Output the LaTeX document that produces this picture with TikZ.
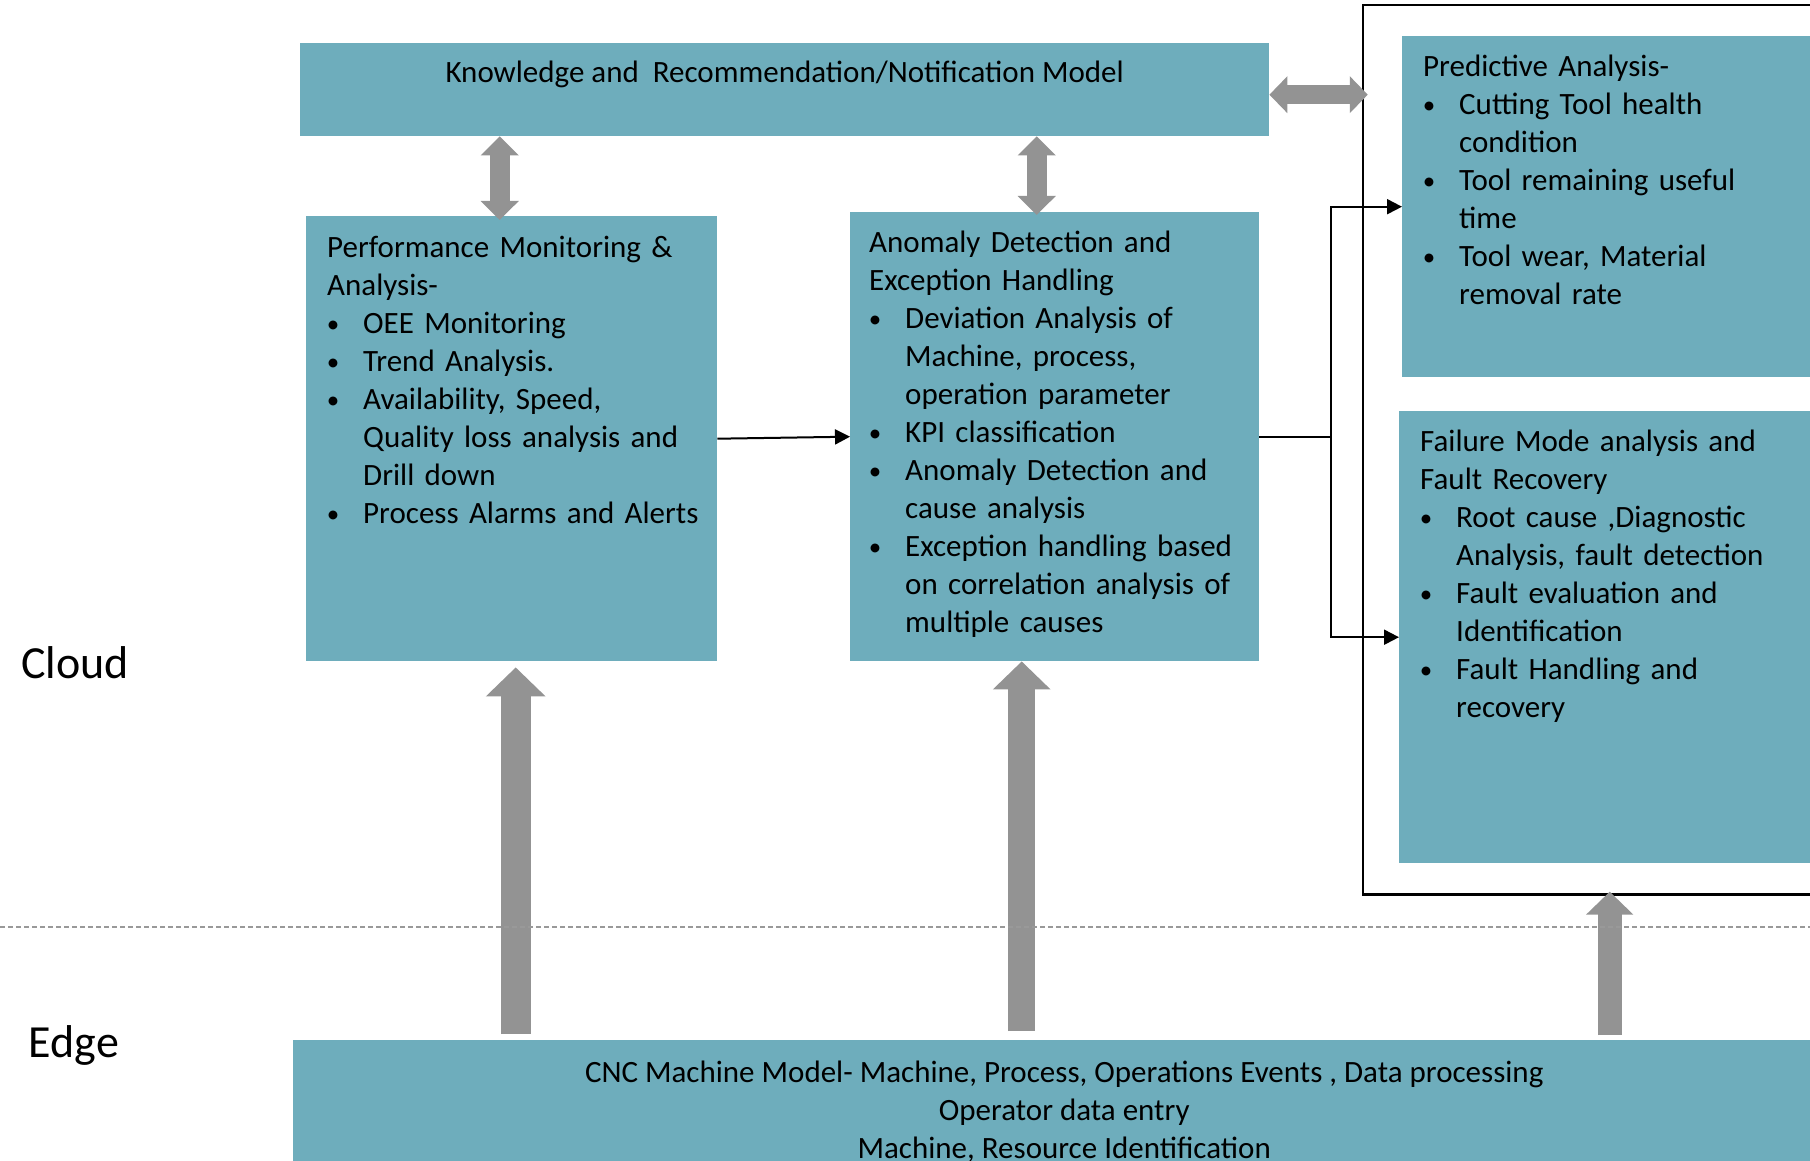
\documentclass[tikz,border=0pt]{standalone}
\usepackage{fontspec}
\setmainfont{Carlito}
\usepackage{tikz}
\usetikzlibrary{positioning,fit,calc,arrows.meta}
\usepackage{xcolor}
\definecolor{tealbg}{RGB}{110,173,188}
\definecolor{arrowgray}{RGB}{147,147,147}

% bullet line with hanging indent
\newcommand{\bitem}[1]{\par\hangindent=36pt\hangafter=1\noindent\makebox[36pt][l]{\makebox[12pt][c]{\raisebox{1.5pt}{\fontsize{25pt}{25pt}\selectfont\textbullet}}}#1\par}

\begin{document}
\begin{tikzpicture}[
    x=1pt, y=-1pt,
    tealbox/.style={fill=tealbg, inner sep=0pt, anchor=north west},
    boxtext/.style={inner sep=0pt, font=\fontsize{31pt}{38pt}\selectfont, align=left},
    bigtext/.style={inner sep=0pt, font=\fontsize{46pt}{55pt}\selectfont},
    conn/.style={line width=2pt, -{Triangle[length=15pt, width=15pt]}},
    bigup/.style n args={3}{draw=arrowgray, line width=#1, -{Triangle[width=#2, length=#3]}},
    dblarrow/.style n args={3}{draw=arrowgray, line width=#1, {Triangle[width=#2, length=#3]}-{Triangle[width=#2, length=#3]}},
    sepline/.style={draw=gray!80, line width=1.5pt, dash pattern=on 5pt off 3pt}
]
    \path[use as bounding box] (0,0) rectangle (1810,1161);
    \clip (0,0) rectangle (1810,1161);

    % Boxes
    \node[tealbox, minimum width=969pt, minimum height=93pt] (know) at (300,43) {};
    \node[tealbox, minimum width=411pt, minimum height=445pt] (perf) at (306,216) {};
    \node[tealbox, minimum width=409pt, minimum height=449pt] (anom) at (850,212) {};
    \node[tealbox, minimum width=430pt, minimum height=341pt] (pred) at (1402,36) {};
    \node[tealbox, minimum width=433pt, minimum height=452pt] (fail) at (1399,411) {};
    \node[tealbox, minimum width=1542pt, minimum height=150pt] (cnc) at (293,1040) {};

    % Frame round the predictive and failure boxes
    \node[draw, line width=2.5pt, fit=(pred)(fail), inner xsep=36pt, inner ysep=31pt] (grp) {};

    % Box texts
    \node[boxtext, below=18pt of know.north] (knowtxt) {Knowledge and\ \ Recommendation/Notification Model};
    \node[boxtext, text width=390pt, below right=20pt and 21pt of perf.north west] (perftxt) {%
        Performance Monitoring \&\newline Analysis-
        \bitem{OEE Monitoring}
        \bitem{Trend Analysis.}
        \bitem{Availability, Speed,\newline Quality loss analysis and\newline Drill down}
        \bitem{Process Alarms and Alerts}};
    \node[boxtext, text width=390pt, below right=19pt and 19pt of anom.north west] (anomtxt) {%
        Anomaly Detection and\newline Exception Handling
        \bitem{Deviation Analysis of\newline Machine, process,\newline operation parameter}
        \bitem{KPI classification}
        \bitem{Anomaly Detection and\newline cause analysis}
        \bitem{Exception handling based\newline on correlation analysis of\newline multiple causes}};
    \node[boxtext, text width=390pt, below right=19pt and 21pt of pred.north west] (predtxt) {%
        Predictive Analysis-
        \bitem{Cutting Tool health\newline condition}
        \bitem{Tool remaining useful\newline time}
        \bitem{Tool wear, Material\newline removal rate}};
    \node[boxtext, text width=400pt, below right=19pt and 21pt of fail.north west] (failtxt) {%
        Failure Mode analysis and\newline Fault Recovery
        \bitem{Root cause ,Diagnostic\newline Analysis, fault detection}
        \bitem{Fault evaluation and\newline Identification}
        \bitem{Fault Handling and\newline recovery}};
    \node[boxtext, align=center, below=21pt of cnc.north] (cnctxt) {%
        CNC Machine Model- Machine, Process, Operations Events , Data processing\\
        Operator data entry\\
        Machine, Resource Identification};

    % Layer labels
    \node[bigtext] (cloud) at (75,663) {Cloud};
    \node[bigtext] (edge) at (74,1045) {Edge};

    % Gray data arrows
    \coordinate (upA) at ([xshift=4pt]perf.south);
    \coordinate (upB) at ([xshift=-33pt]anom.south);
    \coordinate (upC) at ([xshift=-6pt]grp.south);
    \draw[bigup={30pt}{58pt}{29pt}, shorten <=6pt, shorten >=6pt] (upA |- cnc.north) -- (upA);
    \draw[bigup={27pt}{56pt}{28pt}, shorten <=9pt] (upB |- cnc.north) -- (upB);
    \draw[bigup={24pt}{46pt}{23pt}, shorten <=5pt, shorten >=-4pt] (upC |- cnc.north) -- (upC);

    \coordinate (dnA) at ([xshift=-12pt]perf.north);
    \coordinate (dnB) at ([xshift=-18pt]anom.north);
    \coordinate (kE) at ([yshift=-5pt]know.east);
    \draw[dblarrow={20pt}{37pt}{19pt}, shorten >=-4pt] (dnA |- know.south) -- (dnA);
    \draw[dblarrow={20pt}{37pt}{19pt}, shorten >=-3pt] (dnB |- know.south) -- (dnB);
    \draw[dblarrow={19pt}{36pt}{18pt}, shorten >=-6pt] (kE) -- (kE -| grp.west);

    % Black flow connectors
    \coordinate[right=72pt of anom.east] (jn);
    \draw[conn] (perf.east) -- (anom.west);
    \draw[conn] (anom.east) -- (jn) |- (pred.west);
    \draw[conn] (jn) |- (fail.west);

    % Cloud / edge border
    \coordinate (dl) at (0,927);
    \coordinate (dr) at (1810,927);
    \draw[sepline] (dl) -- (dr);
\end{tikzpicture}
\end{document}
